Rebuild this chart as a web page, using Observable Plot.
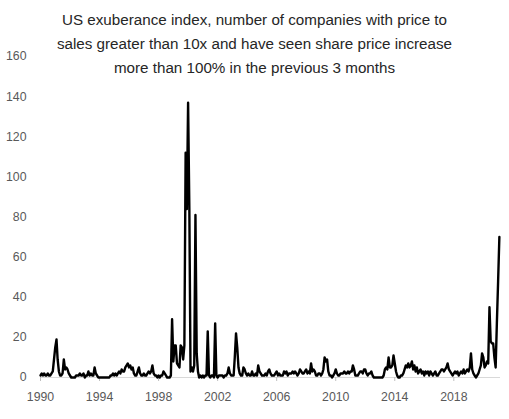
<!DOCTYPE html>
<html><head><meta charset="utf-8">
<script src="https://cdn.jsdelivr.net/npm/d3@7"></script>
<script src="https://cdn.jsdelivr.net/npm/@observablehq/plot@0.6"></script>
<style>
body{margin:0;background:#fff;}
#wrap{position:relative;width:509px;height:419px;overflow:hidden;}
#title{position:absolute;left:0;top:8px;width:509px;text-align:center;font-family:"Liberation Sans",Arial,sans-serif;font-size:15.2px;line-height:24px;color:#262626;z-index:2;}
#chart{position:absolute;left:0;top:0;}
</style></head><body>
<div id="wrap">
<div id="title">US exuberance index, number of companies with price to<br>sales greater than 10x and have seen share price increase<br>more than 100% in the previous 3 months</div>
<div id="chart"></div>
</div>
<script>
const startYear = 1990;
// monthly values, one row per year (Jan..Dec), from Jan 1990 to Feb 2021
const values = [
  1,2,1,2,1,1,2,1,1,2,3,9,            // 1990
  15,19,9,3,1,1,2,9,4,5,4,2,          // 1991
  1,0,0,0,0,1,1,1,2,1,1,2,            // 1992
  0,1,1,3,1,2,1,1,5,2,1,0,            // 1993
  0,0,0,0,0,0,0,0,0,1,1,2,            // 1994
  1,2,1,2,3,2,4,3,3,5,6,7,            // 1995
  5,6,4,5,2,1,1,3,5,2,1,1,            // 1996
  2,1,1,2,3,2,3,6,2,1,1,0,            // 1997
  1,0,1,1,3,2,1,0,0,0,1,29,           // 1998
  8,16,16,7,6,5,16,15,9,16,112,84,    // 1999
  137,84,3,5,3,6,81,12,3,0,1,0,       // 2000
  1,0,1,1,23,1,0,1,1,0,27,1,          // 2001
  0,1,1,1,1,0,1,1,2,5,2,1,            // 2002
  1,1,10,22,15,5,2,1,1,5,4,2,         // 2003
  1,2,1,1,3,1,1,2,1,6,3,2,            // 2004
  1,1,1,2,1,3,4,2,1,1,1,2,            // 2005
  3,1,2,1,1,1,3,2,3,1,2,2,            // 2006
  2,3,2,3,2,1,2,4,3,2,2,3,            // 2007
  4,2,3,2,7,3,4,3,1,1,2,2,            // 2008
  1,2,4,10,8,9,3,1,1,0,1,2,           // 2009
  4,2,1,1,2,2,2,3,2,2,3,2,            // 2010
  3,3,6,4,1,1,1,2,3,3,2,4,            // 2011
  4,2,1,2,2,3,1,0,0,0,0,0,            // 2012
  0,0,0,1,4,5,4,10,5,5,6,11,          // 2013
  7,3,1,0,0,1,1,2,4,6,5,7,            // 2014
  5,6,8,4,6,3,5,2,3,4,2,3,            // 2015
  1,3,2,3,1,3,2,1,2,3,1,1,            // 2016
  2,3,4,4,3,4,5,7,4,3,2,1,            // 2017
  2,3,2,3,1,2,3,2,4,2,3,4,            // 2018
  3,5,12,4,2,1,0,1,2,4,6,12,          // 2019
  10,5,6,8,7,35,18,17,17,10,5,27,     // 2020
  48,70                               // 2021
];
const yTicks = [0,20,40,60,80,100,120,140,160];
const xTickYears = [1990,1994,1998,2002,2006,2010,2014,2018];

const data = values.map((v,i)=>({date:new Date(Date.UTC(startYear, i, 1)), value:v}));

const chart = Plot.plot({
  width: 509,
  height: 419,
  marginLeft: 40,
  marginRight: 9,
  marginTop: 56,
  marginBottom: 42,
  style: {fontFamily: '"Liberation Sans", Arial, sans-serif', fontSize: "12.3px", color: "#595959", background: "transparent"},
  x: {type: "utc", domain: [new Date(Date.UTC(1990,0,1)), new Date(Date.UTC(2021,2,1))]},
  y: {domain: [0,160]},
  marks: [
    Plot.ruleY([0], {stroke: "#d9d9d9", strokeWidth: 1}),
    Plot.axisX({ticks: xTickYears.map(y=>new Date(Date.UTC(y,0,1))), tickFormat: d3.utcFormat("%Y"), tickSize: 4, tickPadding: 11, stroke: "#bfbfbf", fill: "#595959", label: null}),
    Plot.axisY({ticks: yTicks, tickSize: 0, tickPadding: 14, fill: "#595959", label: null}),
    Plot.lineY(data, {x: "date", y: "value", stroke: "#000", strokeWidth: 2.4, strokeLinejoin: "round"})
  ]
});
document.getElementById("chart").appendChild(chart);
</script>
</body></html>
